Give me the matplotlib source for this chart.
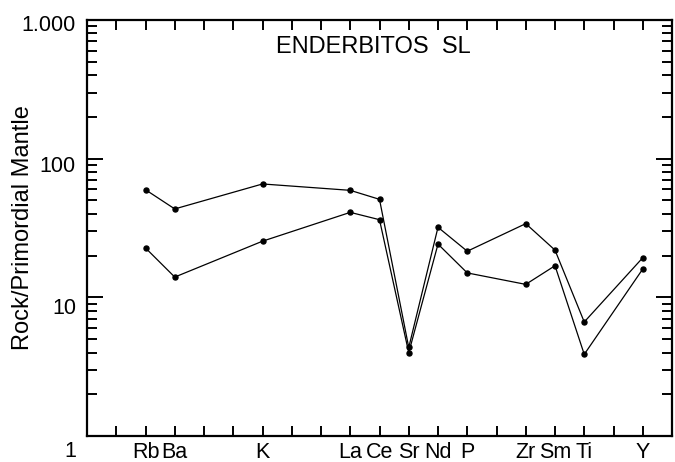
import numpy as np
import matplotlib
matplotlib.use('Agg')
import matplotlib.pyplot as plt
import matplotlib.transforms as mtransforms

plt.rcParams['font.family'] = ['Liberation Sans', 'DejaVu Sans']

# elements and their slot on the spidergram x axis
elements = ['Rb', 'Ba', 'K', 'La', 'Ce', 'Sr', 'Nd', 'P', 'Zr', 'Sm', 'Ti', 'Y']
slots = [2, 3, 6, 9, 10, 11, 12, 13, 15, 16, 17, 19]

# rock / primordial mantle, two samples
sample_a = [59.7, 43.4, 65.7, 59.1, 50.9, 4.35, 32.0, 21.5, 34.0, 21.9, 6.64, 19.3]
sample_b = [22.7, 14.0, 25.4, 41.0, 36.3, 3.99, 24.2, 15.0, 12.4, 16.9, 3.88, 16.0]

ytick_vals = [1, 10, 100, 1000]
ytick_labels = ['1', '10', '100', '1.000']

fig = plt.figure(figsize=(6.75, 4.62), dpi=100)
ax = fig.add_axes([87/675, 1-436/462, (672-87)/675, (436-20)/462])

for s in (sample_a, sample_b):
    ax.plot(slots, s, color='black', lw=0.9, marker='o', ms=3.6)

ax.set_yscale('log')
ax.set_ylim(1, 1000)
ax.set_xlim(0, 20)

ax.yaxis.set_major_locator(matplotlib.ticker.FixedLocator(ytick_vals))
ax.yaxis.set_minor_locator(matplotlib.ticker.LogLocator(base=10, subs=np.arange(2, 10)))
ax.yaxis.set_minor_formatter(matplotlib.ticker.NullFormatter())
ax.set_yticklabels(ytick_labels)

xt = list(range(1, 20))
ax.set_xticks(xt)
ax.set_xticklabels([elements[slots.index(t)] if t in slots else '' for t in xt])

ax.tick_params(axis='x', which='major', direction='in', length=7.5, width=1.4,
               top=True, labelsize=15.5, pad=4.5)
ax.tick_params(axis='y', which='major', direction='in', length=11.5, width=1.4,
               right=True, labelsize=15.5, pad=8)
ax.tick_params(axis='y', which='minor', direction='in', length=7, width=1.4, right=True)

for sp in ax.spines.values():
    sp.set_linewidth(1.6)

# the old plot prints the y labels a bit low
offsets = [13, 9, 5, 3]
for lab, off in zip(ax.get_yticklabels(), offsets):
    lab.set_transform(lab.get_transform() +
                      mtransforms.ScaledTranslation(0, -off/100, fig.dpi_scale_trans))

ax.set_ylabel('Rock/Primordial Mantle', fontsize=17)
ax.yaxis.set_label_coords(-0.09, 0.5)

ax.text(0.489, 0.934, 'ENDERBITOS  SL', transform=ax.transAxes, fontsize=17,
        ha='center', va='center')

fig.savefig('out.png', dpi=100)
